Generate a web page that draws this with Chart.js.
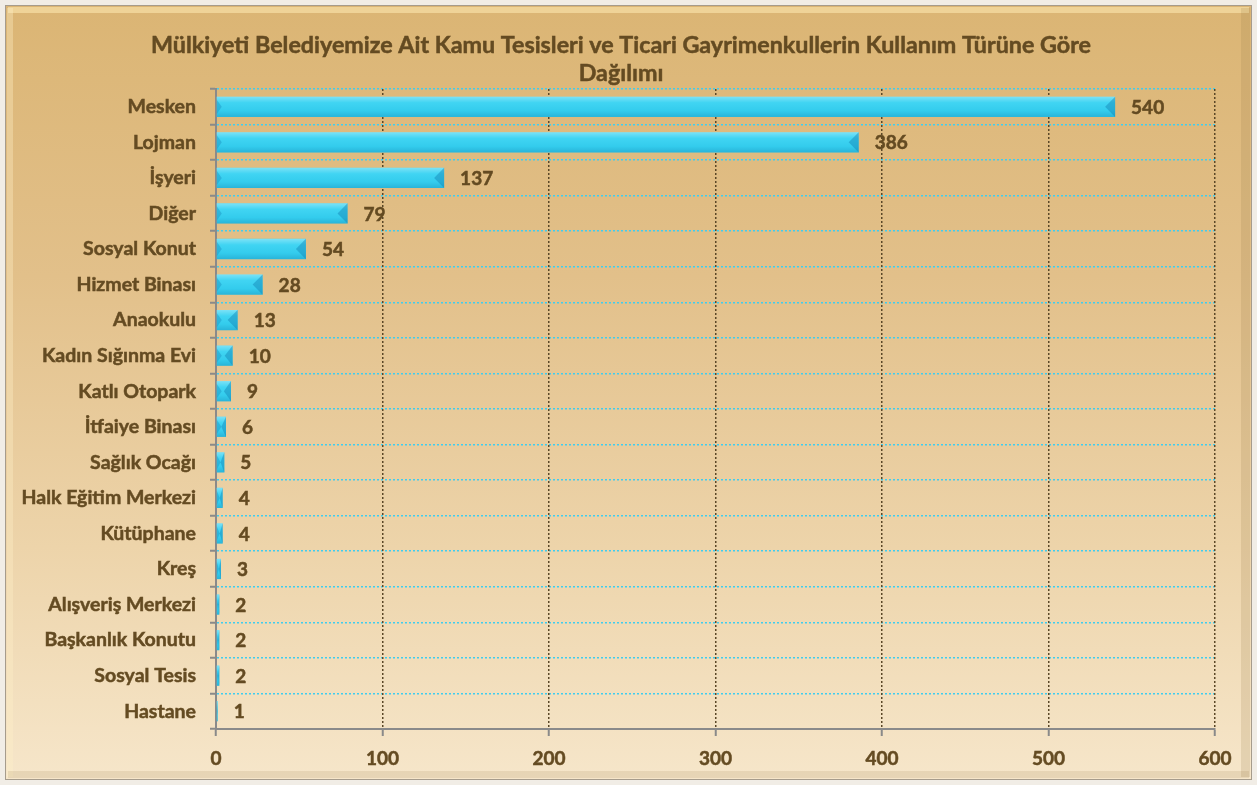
<!DOCTYPE html>
<html>
<head>
<meta charset="utf-8">
<script src="https://cdn.jsdelivr.net/npm/chart.js@4.4.1/dist/chart.umd.min.js"></script>
<style>
html,body{margin:0;padding:0;background:#f3efe8;}
#wrap{position:relative;width:1257px;height:785px;}
</style>
</head>
<body>
<div id="wrap"><canvas id="c" width="1257" height="785"></canvas></div>
<script>
const titleLines = ["Mülkiyeti Belediyemize Ait Kamu Tesisleri ve Ticari Gayrimenkullerin Kullanım Türüne Göre", "Dağılımı"];
const categories = ["Mesken","Lojman","İşyeri","Diğer","Sosyal Konut","Hizmet Binası","Anaokulu","Kadın Sığınma Evi","Katlı Otopark","İtfaiye Binası","Sağlık Ocağı","Halk Eğitim Merkezi","Kütüphane","Kreş","Alışveriş Merkezi","Başkanlık Konutu","Sosyal Tesis","Hastane"];
const values = [540,386,137,79,54,28,13,10,9,6,5,4,4,3,2,2,2,1];
const xTicks = [0,100,200,300,400,500,600];

const TEXT = '#644B22';
const FONT = 'Lato, "Open Sans", sans-serif';

const bgPlugin = {
  id: 'bg',
  beforeDraw(chart) {
    const ctx = chart.ctx;
    const W = chart.width, H = chart.height;
    ctx.save();
    ctx.fillStyle = '#f1ede6';
    ctx.fillRect(0,0,W,H);
    const g = ctx.createLinearGradient(0,5,0,H-5);
    g.addColorStop(0,'#DBB574');
    g.addColorStop(0.35,'#E2C08A');
    g.addColorStop(0.7,'#EDD4AA');
    g.addColorStop(1,'#F6E6CA');
    ctx.fillStyle = g;
    ctx.fillRect(5,5,W-10,H-10);
    ctx.fillStyle = 'rgba(255,235,180,0.55)';
    ctx.fillRect(8,7,W-16,6);
    ctx.fillStyle = 'rgba(255,240,200,0.35)';
    ctx.fillRect(7,8,6,H-16);
    ctx.fillStyle = 'rgba(150,120,70,0.18)';
    ctx.fillRect(W-16,8,9,H-16);
    ctx.fillStyle = 'rgba(150,120,70,0.15)';
    ctx.fillRect(8,H-14,W-16,7);
    ctx.strokeStyle = '#A69C8C';
    ctx.lineWidth = 1;
    ctx.strokeRect(5.5,5.5,W-11,H-11);
    ctx.restore();
  }
};

const titlePlugin = {
  id: 'titleDraw',
  afterDraw(chart) {
    const ctx = chart.ctx;
    ctx.save();
    ctx.fillStyle = TEXT;
    ctx.strokeStyle = TEXT;
    ctx.lineWidth = 0.5;
    ctx.font = 'bold 23.3px ' + FONT;
    ctx.textAlign = 'center';
    ctx.textBaseline = 'middle';
    titleLines.forEach((t, i) => {
      ctx.fillText(t, 621, 45 + i * 28);
      ctx.strokeText(t, 621, 45 + i * 28);
    });
    ctx.restore();
  }
};

const barStylePlugin = {
  id: 'barStyle',
  afterDatasetsDraw(chart) {
    const ctx = chart.ctx;
    const meta = chart.getDatasetMeta(0);
    ctx.save();
    meta.data.forEach((bar, i) => {
      const x0 = bar.base, x1 = bar.x, h = bar.height;
      const yt = bar.y - h/2, yb = bar.y + h/2;
      const w = x1 - x0;
      if (w <= 0) return;
      const g = ctx.createLinearGradient(0, yt, 0, yb);
      g.addColorStop(0,'rgba(255,255,255,0.35)');
      g.addColorStop(0.3,'rgba(255,255,255,0.05)');
      g.addColorStop(0.7,'rgba(0,90,140,0.05)');
      g.addColorStop(1,'rgba(0,90,140,0.25)');
      ctx.fillStyle = g;
      ctx.fillRect(x0, yt, w, h);
      const n = Math.min(10, w/2);
      ctx.fillStyle = 'rgba(20,130,180,0.45)';
      ctx.beginPath();
      ctx.moveTo(x1, yt); ctx.lineTo(x1 - n, bar.y); ctx.lineTo(x1, yb); ctx.closePath();
      ctx.fill();
      ctx.fillStyle = 'rgba(20,130,180,0.35)';
      ctx.beginPath();
      ctx.moveTo(x0, yt + 3); ctx.lineTo(x0 + Math.min(5, w/2), bar.y); ctx.lineTo(x0, yb - 3); ctx.closePath();
      ctx.fill();
    });
    ctx.fillStyle = TEXT;
    ctx.strokeStyle = TEXT;
    ctx.lineWidth = 0.5;
    ctx.font = 'bold 19px ' + FONT;
    ctx.textAlign = 'left';
    ctx.textBaseline = 'middle';
    meta.data.forEach((bar, i) => {
      ctx.fillText(String(values[i]), bar.x + 16, bar.y + 1);
      ctx.strokeText(String(values[i]), bar.x + 16, bar.y + 1);
    });
    ctx.restore();
  }
};

new Chart(document.getElementById('c'), {
  type: 'bar',
  data: {
    labels: categories,
    datasets: [{
      data: values,
      backgroundColor: '#36D2F2',
      borderWidth: 0,
      categoryPercentage: 1,
      barPercentage: 0.57
    }]
  },
  plugins: [bgPlugin, titlePlugin, barStylePlugin],
  options: {
    indexAxis: 'y',
    responsive: false,
    animation: false,
    devicePixelRatio: 1,
    layout: { padding: { left: 0, top: 89, right: 42, bottom: 0 } },
    plugins: { legend: { display: false }, tooltip: { enabled: false }, title: { display: false } },
    scales: {
      y: {
        type: 'category',
        offset: true,
        afterFit(scale) { scale.width = 216; },
        grid: { display: true, offset: true, color: '#3FCDEF', lineWidth: 1.5, drawTicks: true, tickLength: 6, tickColor: '#8A8A8A', tickWidth: 2 },
        border: { display: true, color: '#8A8A8A', width: 2, dash: [2,2] },
        ticks: { color: TEXT, textStrokeColor: TEXT, textStrokeWidth: 0.5, font: { family: FONT, size: 19.5, weight: 'bold' }, padding: 14 }
      },
      x: {
        type: 'linear',
        min: 0, max: 600,
        afterBuildTicks(scale) { scale.ticks = xTicks.map(v => ({ value: v })); },
        afterFit(scale) { scale.height = 56; },
        grid: { display: true, color: '#5A4727', lineWidth: 1.5, drawTicks: true, tickLength: 7, tickColor: '#8A8A8A', tickWidth: 2 },
        border: { display: true, color: '#8A8A8A', width: 2, dash: [2,2] },
        ticks: { color: TEXT, textStrokeColor: TEXT, textStrokeWidth: 0.5, font: { family: FONT, size: 19, weight: 'bold' }, padding: 11 }
      }
    }
  }
});
</script>
</body>
</html>
